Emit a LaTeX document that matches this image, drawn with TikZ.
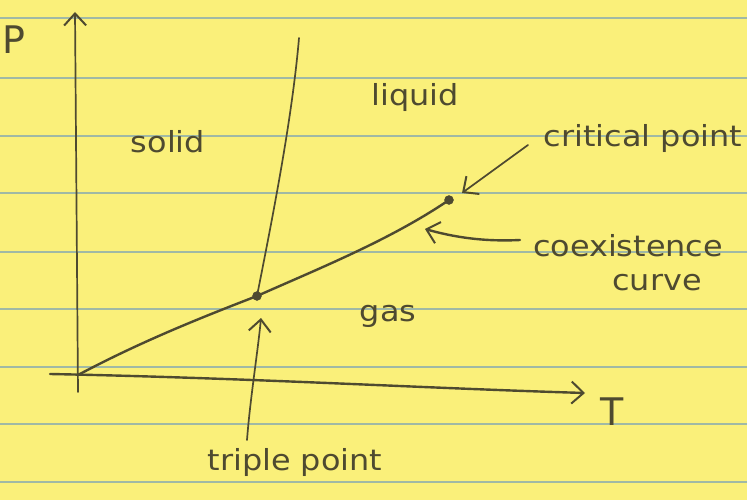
\documentclass[tikz,border=0pt]{standalone}
\usepackage{fontspec}
\setmainfont{DejaVu Sans}
\usetikzlibrary{arrows.meta}
\definecolor{paper}{RGB}{250,240,122}
\definecolor{rule}{RGB}{160,185,165}
\definecolor{ink}{RGB}{78,74,48}
\begin{document}
\begin{tikzpicture}[x=1pt,y=-1pt,
  pen/.style={draw=ink,line width=2.4pt,line cap=round,line join=round},
  thin/.style={pen,line width=1.7pt},
  tip/.style={-{Straight Barb[length=12pt,width=22pt,line width=2pt]}},
  hand/.style={text=ink,font=\fontsize{29}{32}\selectfont\addfontfeature{FakeStretch=1.1},inner sep=0pt},
  big/.style={hand,font=\fontsize{38}{40}\selectfont},
  dot/.style={circle,fill=ink,draw=ink,inner sep=0pt,minimum size=9pt}]
\fill[paper] (0,0) rectangle (747,500);
\useasboundingbox (0,0) rectangle (747,500);
% ruled lines
\foreach \y in {18,78,136,193,252,309,367,424,482}
  \draw[rule,line width=1.3pt] (0,\y) -- (747,\y);
% points
\coordinate (O) at (78,375);
\coordinate (Ptop) at (75,12);
\coordinate (Pbot) at (78,392);
\coordinate (Tl) at (50,374);
\coordinate (Tr) at (585,393);
\coordinate (M) at (299,38);
\node[dot] (tp) at (257,296) {};
\node[dot] (cp) at (449,200) {};
% axes
\draw[thin,tip] (Pbot) -- (Ptop);
\draw[pen,tip] (Tl) .. controls (250,378) and (420,388) .. (Tr);
% curves
\draw[pen] (O) .. controls (140,342) and (200,318) .. (tp.center);
\draw[pen] (tp.center) .. controls (320,268) and (390,240) .. (cp.center);
\draw[thin] (tp.center) .. controls (272,220) and (292,120) .. (M);
% labels
\node[big] (P) at (14,40) {P};
\node[big] (T) at (612,412) {T};
\node[hand] (solid) at (168,142) {solid};
\node[hand] (liquid) at (415,98) {liquid};
\node[hand] (gas) at (388,316) {gas};
\node[hand] (crit) at (643,138) {critical point};
\node[hand] (coex) at (628,246) {coexistence};
\node[hand] (curve) at (657,283) {curve};
\node[hand] (triple) at (295,462) {triple point};
% pointer arrows
\coordinate (ca) at (528,145);
\coordinate (cb) at (462,193);
\draw[thin,tip] (ca) -- (cb);
\coordinate (xa) at (520,240);
\coordinate (xb) at (425,229);
\draw[pen,tip] (xa) .. controls (480,242) and (450,236) .. (xb);
\coordinate (ta) at (247,440);
\coordinate (tb) at (261,318);
\draw[thin,tip] (ta) .. controls (250,400) and (258,350) .. (tb);
\end{tikzpicture}
\end{document}
